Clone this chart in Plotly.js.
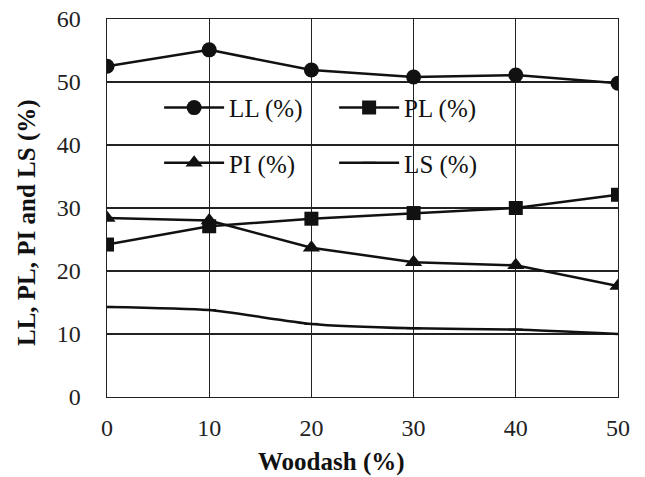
<!DOCTYPE html>
<html>
<head>
<meta charset="utf-8">
<script src="https://cdn.plot.ly/plotly-3.0.1.min.js"></script>
<style>html,body{margin:0;padding:0;background:#fff;}#chart{width:645px;height:477px;}</style>
</head>
<body>
<div id="chart"></div>
<script>
const woodash = [0, 10, 20, 30, 40, 50];
const LL = [52.5, 55.1, 51.9, 50.8, 51.1, 49.8];
const PL = [24.2, 27.1, 28.3, 29.2, 30.0, 32.1];
const PI = [28.4, 28.0, 23.7, 21.4, 20.9, 17.6];
const LS = [14.3, 13.8, 11.6, 10.9, 10.7, 10.0];
const xTicks = [0, 10, 20, 30, 40, 50];
const yTicks = [0, 10, 20, 30, 40, 50, 60];
const xTitle = 'Woodash (%)';
const yTitle = 'LL, PL, PI and LS (%)';

const ink = '#111';
const serif = 'Liberation Serif, Times New Roman, serif';

const traces = [
  {x: woodash, y: LL, name: 'LL (%)', mode: 'lines+markers', legend: 'legend',
   line: {color: ink, width: 2.5}, marker: {symbol: 'circle', size: 15, color: ink}},
  {x: woodash, y: PL, name: 'PL (%)', mode: 'lines+markers', legend: 'legend',
   line: {color: ink, width: 2.5}, marker: {symbol: 'square', size: 14, color: ink}},
  {x: woodash, y: PI, name: 'PI (%)', mode: 'lines+markers', legend: 'legend2',
   line: {color: ink, width: 2.5}, marker: {symbol: 'triangle-up', size: 15, color: ink}},
  {x: woodash, y: LS, name: 'LS (%)', mode: 'lines+markers', legend: 'legend2',
   line: {color: ink, width: 2.5, shape: 'spline', smoothing: 0.6},
   marker: {symbol: 'line-ew', size: 10, line: {color: ink, width: 2}}}
];

const legendCommon = {
  orientation: 'h', xanchor: 'left', yanchor: 'middle',
  x: 0.102, entrywidth: 100, entrywidthmode: 'pixels', itemwidth: 60,
  font: {family: serif, size: 25, color: ink},
  bgcolor: 'rgba(0,0,0,0)', borderwidth: 0
};

const layout = {
  width: 645, height: 477,
  margin: {l: 107, r: 27, t: 19, b: 80},
  paper_bgcolor: '#fff', plot_bgcolor: '#fff',
  showlegend: true,
  legend: Object.assign({}, legendCommon, {y: 0.765}),
  legend2: Object.assign({}, legendCommon, {y: 0.619}),
  xaxis: {
    range: [0, 50], tickvals: xTicks, ticktext: xTicks.map(String),
    showgrid: true, gridcolor: '#222', gridwidth: 1.4,
    showline: true, mirror: true, linecolor: '#222', linewidth: 1.4,
    zeroline: false, ticks: '', ticklabelstandoff: 9,
    tickfont: {family: serif, size: 24, color: '#222'}
  },
  yaxis: {
    range: [0, 60], tickvals: yTicks, ticktext: yTicks.map(String),
    showgrid: true, gridcolor: '#222', gridwidth: 1.4,
    showline: true, mirror: true, linecolor: '#222', linewidth: 1.4,
    zeroline: false, ticks: '', ticklabelstandoff: 20,
    tickfont: {family: serif, size: 24, color: '#222'}
  },
  annotations: [
    {text: xTitle, xref: 'paper', yref: 'paper', x: (331 - 107) / 511, y: (397 - 462) / 378,
     xanchor: 'center', yanchor: 'middle', showarrow: false,
     font: {family: serif, size: 25, color: ink, weight: 'bold'}},
    {text: yTitle, xref: 'paper', yref: 'paper', x: (27 - 107) / 511, y: (397 - 223) / 378,
     xanchor: 'center', yanchor: 'middle', showarrow: false, textangle: -90,
     font: {family: serif, size: 25, color: ink, weight: 'bold'}}
  ]
};

Plotly.newPlot('chart', traces, layout, {displayModeBar: false, staticPlot: true});
</script>
</body>
</html>
